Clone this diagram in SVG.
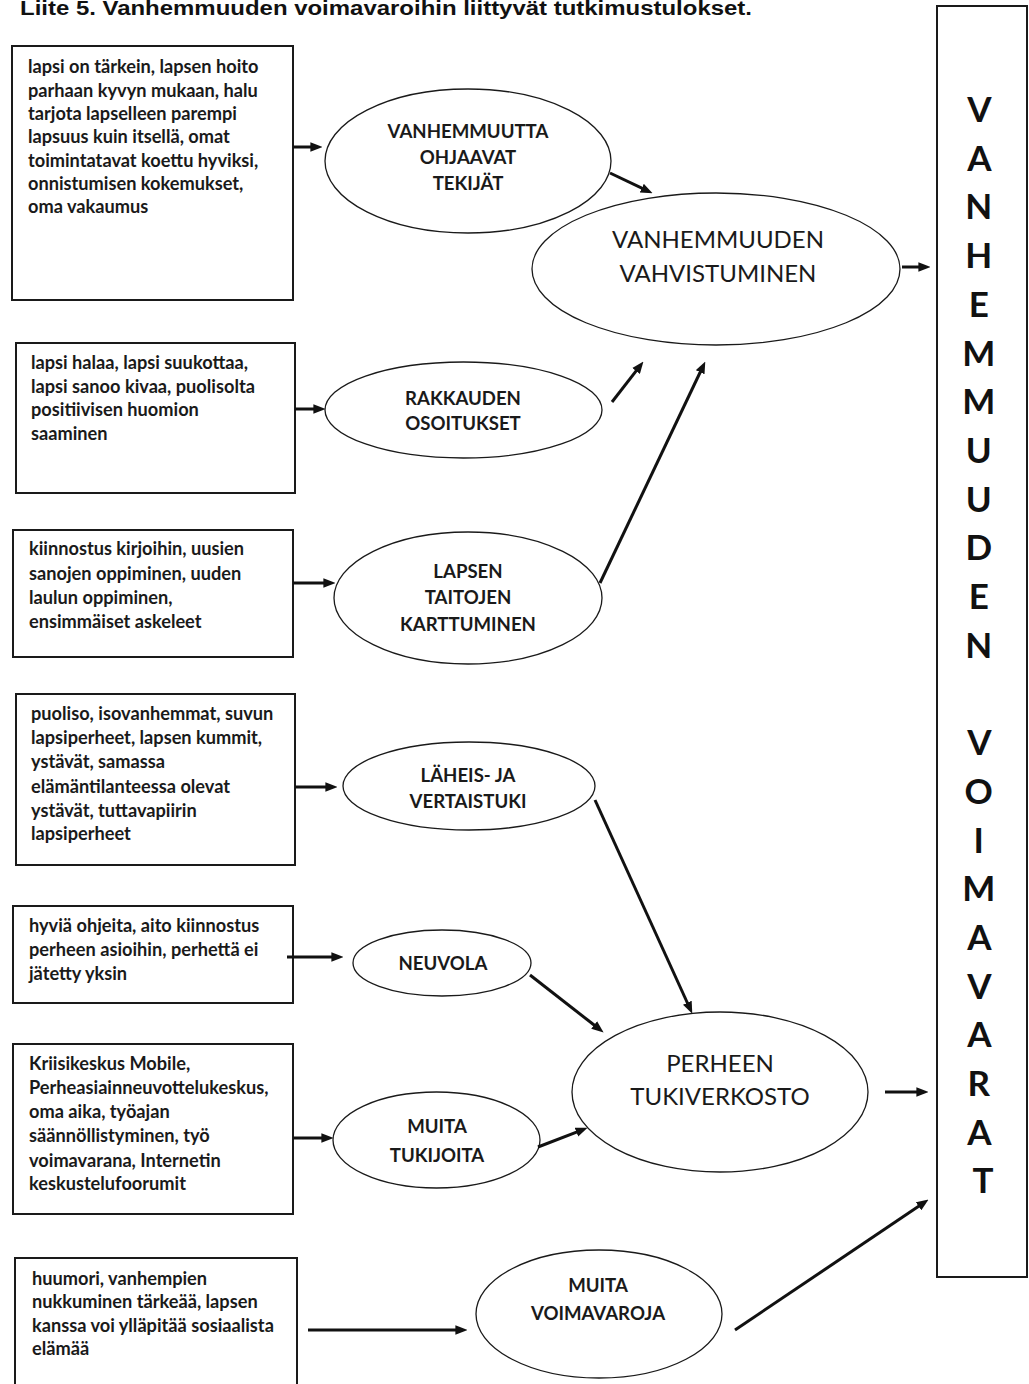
<svg xmlns="http://www.w3.org/2000/svg" width="1029" height="1384" viewBox="0 0 1029 1384">
  <style>
    .bg { fill: #ffffff; }
    .box { fill: #ffffff; stroke: #1a1a1a; stroke-width: 2; }
    .ell { fill: #ffffff; stroke: #1a1a1a; stroke-width: 1.3; }
    .body { font-family: Lato, "Open Sans", sans-serif; font-weight: bold; font-size: 18.2px; fill: #1a1a1a; }
    .lab { font-family: Lato, "Open Sans", sans-serif; font-weight: bold; font-size: 18.6px; fill: #1a1a1a; text-anchor: middle; }
    .big { font-family: Lato, "Open Sans", sans-serif; font-weight: normal; font-size: 24px; fill: #1a1a1a; text-anchor: middle; }
    .title { font-family: "Liberation Sans", Arial, sans-serif; font-weight: bold; font-size: 20px; fill: #111111; }
    .col { font-family: Lato, "Open Sans", sans-serif; font-weight: bold; font-size: 35px; fill: #111111; text-anchor: middle; }
    .conn line { stroke: #111111; stroke-width: 3; fill: none; }
  </style>
  <defs>
    <marker id="ah" viewBox="0 0 10 8" refX="3" refY="4" markerWidth="12" markerHeight="10" markerUnits="userSpaceOnUse" orient="auto">
      <path d="M0,0 L10,4 L0,8 z" fill="#111111"/>
    </marker>
  </defs>

  <rect class="bg" x="0" y="0" width="1029" height="1384"/>

  <text class="title" x="20" y="15" textLength="732" lengthAdjust="spacingAndGlyphs">Liite 5. Vanhemmuuden voimavaroihin liittyvät tutkimustulokset.</text>

  <!-- source boxes -->
  <g id="box-ohjaavat">
    <rect class="box" x="12" y="46" width="281" height="254"/>
    <text class="body" x="28" y="73">lapsi on tärkein, lapsen hoito</text>
    <text class="body" x="28" y="96.5">parhaan kyvyn mukaan, halu</text>
    <text class="body" x="28" y="120">tarjota lapselleen parempi</text>
    <text class="body" x="28" y="143.3">lapsuus kuin itsellä, omat</text>
    <text class="body" x="28" y="166.7">toimintatavat koettu hyviksi,</text>
    <text class="body" x="28" y="190">onnistumisen kokemukset,</text>
    <text class="body" x="28" y="213.3">oma vakaumus</text>
  </g>

  <g id="box-rakkaus">
    <rect class="box" x="16" y="343" width="279" height="150"/>
    <text class="body" x="31" y="369">lapsi halaa, lapsi suukottaa,</text>
    <text class="body" x="31" y="393">lapsi sanoo kivaa, puolisolta</text>
    <text class="body" x="31" y="416">positiivisen huomion</text>
    <text class="body" x="31" y="440">saaminen</text>
  </g>

  <g id="box-taidot">
    <rect class="box" x="13" y="530" width="280" height="127"/>
    <text class="body" x="29" y="555">kiinnostus kirjoihin, uusien</text>
    <text class="body" x="29" y="580">sanojen oppiminen, uuden</text>
    <text class="body" x="29" y="604">laulun oppiminen,</text>
    <text class="body" x="29" y="628">ensimmäiset askeleet</text>
  </g>

  <g id="box-laheiset">
    <rect class="box" x="16" y="694" width="279" height="171"/>
    <text class="body" x="31" y="720">puoliso, isovanhemmat, suvun</text>
    <text class="body" x="31" y="744">lapsiperheet, lapsen kummit,</text>
    <text class="body" x="31" y="768">ystävät, samassa</text>
    <text class="body" x="31" y="793">elämäntilanteessa olevat</text>
    <text class="body" x="31" y="817">ystävät, tuttavapiirin</text>
    <text class="body" x="31" y="840">lapsiperheet</text>
  </g>

  <g id="box-neuvola">
    <rect class="box" x="13" y="906" width="280" height="97"/>
    <text class="body" x="29" y="932">hyviä ohjeita, aito kiinnostus</text>
    <text class="body" x="29" y="956">perheen asioihin, perhettä ei</text>
    <text class="body" x="29" y="980">jätetty yksin</text>
  </g>

  <g id="box-tukijat">
    <rect class="box" x="13" y="1044" width="280" height="170"/>
    <text class="body" x="29" y="1070">Kriisikeskus Mobile,</text>
    <text class="body" x="29" y="1094">Perheasiainneuvottelukeskus,</text>
    <text class="body" x="29" y="1118">oma aika, työajan</text>
    <text class="body" x="29" y="1142">säännöllistyminen, työ</text>
    <text class="body" x="29" y="1167">voimavarana, Internetin</text>
    <text class="body" x="29" y="1190">keskustelufoorumit</text>
  </g>

  <g id="box-muut">
    <rect class="box" x="15" y="1258" width="282" height="140"/>
    <text class="body" x="32" y="1285">huumori, vanhempien</text>
    <text class="body" x="32" y="1308">nukkuminen tärkeää, lapsen</text>
    <text class="body" x="32" y="1332">kanssa voi ylläpitää sosiaalista</text>
    <text class="body" x="32" y="1355">elämää</text>
  </g>

  <!-- theme ellipses -->
  <g id="ell-ohjaavat">
    <ellipse class="ell" cx="468" cy="161" rx="143" ry="72"/>
    <text class="lab" x="468" y="138">VANHEMMUUTTA</text>
    <text class="lab" x="468" y="164">OHJAAVAT</text>
    <text class="lab" x="468" y="190">TEKIJÄT</text>
  </g>

  <g id="ell-vahvistuminen">
    <ellipse class="ell" cx="716" cy="269" rx="184" ry="76"/>
    <text class="big" x="718" y="248">VANHEMMUUDEN</text>
    <text class="big" x="718" y="282">VAHVISTUMINEN</text>
  </g>

  <g id="ell-rakkaus">
    <ellipse class="ell" cx="463.5" cy="410" rx="138.5" ry="48"/>
    <text class="lab" x="463" y="405">RAKKAUDEN</text>
    <text class="lab" x="463" y="430">OSOITUKSET</text>
  </g>

  <g id="ell-taidot">
    <ellipse class="ell" cx="468" cy="598" rx="134" ry="66"/>
    <text class="lab" x="468" y="578">LAPSEN</text>
    <text class="lab" x="468" y="604">TAITOJEN</text>
    <text class="lab" x="468" y="631">KARTTUMINEN</text>
  </g>

  <g id="ell-laheiset">
    <ellipse class="ell" cx="469" cy="786" rx="126" ry="44"/>
    <text class="lab" x="468" y="782">LÄHEIS- JA</text>
    <text class="lab" x="468" y="808">VERTAISTUKI</text>
  </g>

  <g id="ell-neuvola">
    <ellipse class="ell" cx="442" cy="963" rx="89" ry="33"/>
    <text class="lab" x="443" y="970">NEUVOLA</text>
  </g>

  <g id="ell-tukijat">
    <ellipse class="ell" cx="436.5" cy="1140" rx="103.5" ry="48"/>
    <text class="lab" x="437" y="1133">MUITA</text>
    <text class="lab" x="437" y="1162">TUKIJOITA</text>
  </g>

  <g id="ell-tukiverkosto">
    <ellipse class="ell" cx="720" cy="1092" rx="148" ry="80"/>
    <text class="big" x="720" y="1072">PERHEEN</text>
    <text class="big" x="720" y="1105">TUKIVERKOSTO</text>
  </g>

  <g id="ell-muut">
    <ellipse class="ell" cx="599" cy="1314" rx="123" ry="64"/>
    <text class="lab" x="598" y="1292">MUITA</text>
    <text class="lab" x="598" y="1320">VOIMAVAROJA</text>
  </g>

  <!-- outcome column -->
  <g id="voimavarat">
    <rect class="box" x="937" y="6" width="90" height="1271" stroke-width="1.6"/>
    <text class="col">
      <tspan x="983" y="122">V</tspan>
      <tspan x="983" dy="48.7">A</tspan>
      <tspan x="983" dy="48.7">N</tspan>
      <tspan x="983" dy="48.7">H</tspan>
      <tspan x="983" dy="48.7">E</tspan>
      <tspan x="983" dy="48.7">M</tspan>
      <tspan x="983" dy="48.7">M</tspan>
      <tspan x="983" dy="48.7">U</tspan>
      <tspan x="983" dy="48.7">U</tspan>
      <tspan x="983" dy="48.7">D</tspan>
      <tspan x="983" dy="48.7">E</tspan>
      <tspan x="983" dy="48.7">N</tspan>
      <tspan x="983" dy="97.4">V</tspan>
      <tspan x="983" dy="48.7">O</tspan>
      <tspan x="983" dy="48.7">I</tspan>
      <tspan x="983" dy="48.7">M</tspan>
      <tspan x="983" dy="48.7">A</tspan>
      <tspan x="983" dy="48.7">V</tspan>
      <tspan x="983" dy="48.7">A</tspan>
      <tspan x="983" dy="48.7">R</tspan>
      <tspan x="983" dy="48.7">A</tspan>
      <tspan x="983" dy="48.7">T</tspan>
    </text>
  </g>

  <!-- connectors -->
  <g class="conn" id="connectors">
    <line x1="293" y1="147" x2="314" y2="147" marker-end="url(#ah)"/>
    <line x1="610" y1="173" x2="645" y2="189.7" marker-end="url(#ah)"/>
    <line x1="902" y1="267" x2="922" y2="267" marker-end="url(#ah)"/>
    <line x1="295" y1="409" x2="317" y2="409" marker-end="url(#ah)"/>
    <line x1="612" y1="402" x2="638.3" y2="368.1" marker-end="url(#ah)"/>
    <line x1="293" y1="583" x2="327" y2="583" marker-end="url(#ah)"/>
    <line x1="600" y1="583" x2="701.7" y2="369" marker-end="url(#ah)"/>
    <line x1="295" y1="787" x2="329" y2="787" marker-end="url(#ah)"/>
    <line x1="595" y1="800" x2="688.8" y2="1006" marker-end="url(#ah)"/>
    <line x1="287" y1="957" x2="335" y2="957" marker-end="url(#ah)"/>
    <line x1="530" y1="975" x2="597" y2="1027.3" marker-end="url(#ah)"/>
    <line x1="293" y1="1138" x2="325" y2="1138" marker-end="url(#ah)"/>
    <line x1="538" y1="1147" x2="579.8" y2="1130.8" marker-end="url(#ah)"/>
    <line x1="885" y1="1092" x2="920" y2="1092" marker-end="url(#ah)"/>
    <line x1="308" y1="1330" x2="459" y2="1330" marker-end="url(#ah)"/>
    <line x1="735" y1="1330" x2="921.6" y2="1204.3" marker-end="url(#ah)"/>
  </g>
</svg>
